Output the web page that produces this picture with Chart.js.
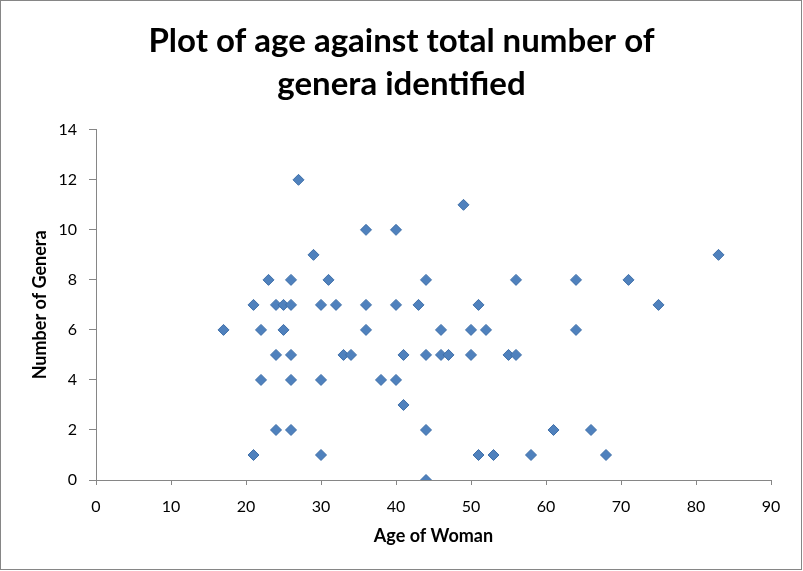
<!DOCTYPE html>
<html>
<head>
<meta charset="utf-8">
<script src="https://cdn.jsdelivr.net/npm/chart.js@4/dist/chart.umd.min.js"></script>
<style>
  html, body { margin: 0; padding: 0; background: #fff; }
  #wrap { position: relative; width: 803px; height: 571px; }
</style>
</head>
<body>
<div id="wrap"><canvas id="scatterChart" width="803" height="571"></canvas></div>
<script>
// age of woman vs number of genera
const ages   = [17,21,21,22,22,23,24,24,24,25,25,26,26,26,26,26,27,29,30,30,30,31,32,33,34,36,36,36,38,40,40,40,41,41,43,44,44,44,44,46,46,47,49,50,50,51,51,52,53,55,56,56,58,61,64,64,66,68,71,75,83];
const genera = [ 6, 1, 7, 4, 6, 8, 7, 5, 2, 7, 6, 8, 7, 5, 4, 2,12, 9, 7, 4, 1, 8, 7, 5, 5,10, 7, 6, 4,10, 7, 4, 5, 3, 7, 8, 5, 2, 0, 6, 5, 5,11, 6, 5, 7, 1, 6, 1, 5, 5, 8, 1, 2, 8, 6, 2, 1, 8, 7, 9];
const xTicks = [0,10,20,30,40,50,60,70,80,90];
const yTicks = [0,2,4,6,8,10,12,14];

const points = ages.map((a, i) => ({ x: a, y: genera[i] }));
const FONT = 'Lato, "Open Sans", sans-serif';
const AXIS = '#868686';

// outer frame like the spreadsheet chart
const framePlugin = {
  id: 'frame',
  afterDraw(chart) {
    const c = chart.ctx;
    c.save();
    c.strokeStyle = AXIS;
    c.lineWidth = 1;
    c.strokeRect(0.5, 0.5, chart.width - 2, chart.height - 2);
    c.restore();
  }
};

new Chart(document.getElementById('scatterChart').getContext('2d'), {
  type: 'scatter',
  data: {
    datasets: [{
      label: 'Genera',
      data: points,
      pointStyle: 'rectRot',
      pointRadius: 5.5,
      pointHoverRadius: 5.5,
      backgroundColor: '#4F81BD',
      borderColor: '#3F6FA8',
      borderWidth: 1
    }]
  },
  options: {
    responsive: false,
    animation: false,
    layout: { padding: 0 },
    plugins: {
      legend: { display: false },
      tooltip: { enabled: false },
      title: {
        display: true,
        text: ['Plot of age against total number of', 'genera identified'],
        color: '#000',
        font: { family: FONT, size: 33, weight: 'bold', lineHeight: 1.3 },
        padding: { top: 20, bottom: 24 }
      }
    },
    scales: {
      x: {
        type: 'linear',
        min: 0, max: 90,
        afterBuildTicks: s => { s.ticks = xTicks.map(v => ({ value: v })); },
        afterFit: s => { s.height = 91; },
        grid: { drawOnChartArea: false, drawTicks: true, tickLength: 5, color: AXIS },
        border: { color: AXIS },
        ticks: { color: '#000', font: { family: FONT, size: 16 }, padding: 12 },
        title: { display: true, text: 'Age of Woman', color: '#000', font: { family: FONT, size: 18, weight: 'bold' }, padding: { top: 4, bottom: 24 } }
      },
      y: {
        type: 'linear',
        min: 0, max: 14,
        afterBuildTicks: s => { s.ticks = yTicks.map(v => ({ value: v })); },
        afterFit: s => { s.width = 96; },
        grid: { drawOnChartArea: false, drawTicks: true, tickLength: 7, color: AXIS },
        border: { color: AXIS },
        ticks: { color: '#000', font: { family: FONT, size: 16 }, padding: 12 },
        // left-hand titles are offset by padding.top
        title: { display: true, text: 'Number of Genera', color: '#000', font: { family: FONT, size: 18, weight: 'bold' }, padding: { top: 29, bottom: 4 } }
      },
      // empty right-hand axis, only reserves the margin so the title stays centred on the page
      yRight: {
        type: 'linear',
        position: 'right',
        min: 0, max: 14,
        afterFit: s => { s.width = 32; },
        grid: { display: false },
        border: { display: false },
        ticks: { display: false }
      }
    }
  },
  plugins: [framePlugin]
});
</script>
</body>
</html>
